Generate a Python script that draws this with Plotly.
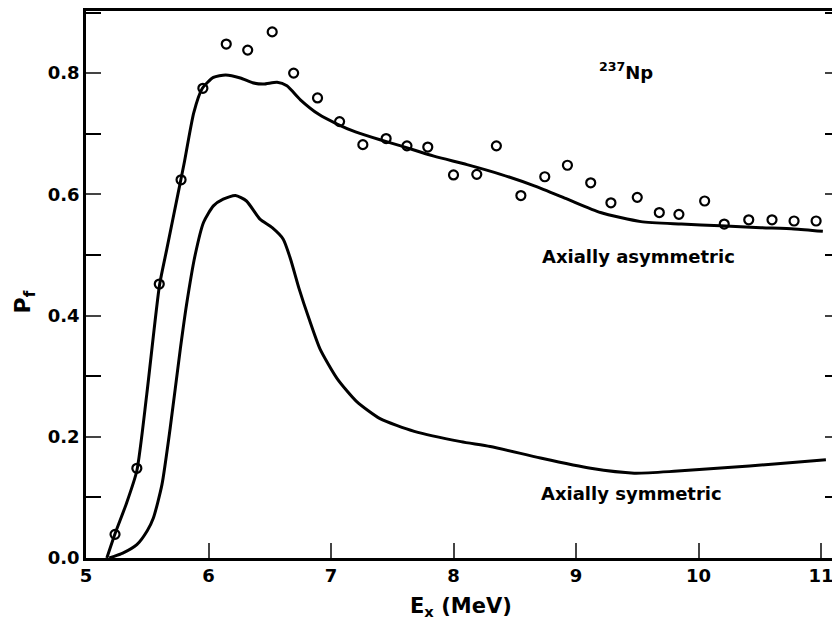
import plotly.graph_objects as go

# Experimental points (open circles)
pts_x = [5.237, 5.415, 5.598, 5.776, 5.954, 6.145, 6.32, 6.52, 6.695, 6.89, 7.07, 7.26,
         7.45, 7.62, 7.79, 8.0, 8.19, 8.35, 8.55, 8.745, 8.93, 9.12, 9.285, 9.50, 9.68,
         9.84, 10.05, 10.21, 10.41, 10.60, 10.78, 10.96]
pts_y = [0.039, 0.148, 0.452, 0.624, 0.775, 0.848, 0.838, 0.868, 0.80, 0.759, 0.72, 0.682,
         0.692, 0.68, 0.678, 0.632, 0.633, 0.68, 0.598, 0.629, 0.648, 0.619, 0.586, 0.595, 0.570,
         0.567, 0.589, 0.551, 0.558, 0.558, 0.556, 0.556]

# Axially asymmetric calculation
asym_x = [5.17, 5.237, 5.33, 5.415, 5.496, 5.60, 5.66, 5.75, 5.80, 5.88, 5.95, 6.04, 6.14,
          6.26, 6.36, 6.45, 6.56, 6.64, 6.75, 6.90, 7.05, 7.20, 7.40, 7.57, 7.84, 8.11, 8.385,
          8.66, 8.93, 9.2, 9.53, 9.86, 10.18, 10.51, 10.78, 11.015]
asym_y = [0.0, 0.04, 0.09, 0.144, 0.27, 0.45, 0.51, 0.60, 0.65, 0.735, 0.775, 0.793, 0.797,
          0.792, 0.784, 0.782, 0.785, 0.779, 0.756, 0.732, 0.716, 0.703, 0.690, 0.680, 0.663, 0.649, 0.633,
          0.614, 0.592, 0.570, 0.555, 0.551, 0.548, 0.545, 0.543, 0.539]

# Axially symmetric calculation
sym_x = [5.19, 5.30, 5.415, 5.50, 5.55, 5.62, 5.687, 5.77, 5.82, 5.89, 5.96, 6.04, 6.12,
         6.22, 6.31, 6.42, 6.52, 6.61, 6.67, 6.74, 6.82, 6.91, 7.05, 7.21, 7.40, 7.68, 8.06,
         8.30, 8.71, 9.12, 9.475, 9.80, 10.21, 10.62, 11.04]
sym_y = [0.0, 0.008, 0.022, 0.045, 0.066, 0.121, 0.214, 0.345, 0.417, 0.499, 0.554, 0.581, 0.592,
         0.598, 0.589, 0.559, 0.545, 0.526, 0.493, 0.444, 0.395, 0.345, 0.296, 0.258, 0.230, 0.209, 0.192,
         0.184, 0.165, 0.148, 0.140, 0.143, 0.149, 0.155, 0.162]

x_ticks = [5, 6, 7, 8, 9, 10, 11]
y_ticks = [0.0, 0.2, 0.4, 0.6, 0.8]
y_ticklabels = ["0.0", "0.2", "0.4", "0.6", "0.8"]

FONT = "DejaVu Sans"

fig = go.Figure()
fig.add_trace(go.Scatter(x=asym_x, y=asym_y, mode="lines",
                         line=dict(color="black", width=3, shape="spline", smoothing=0.6),
                         hoverinfo="skip", showlegend=False))
fig.add_trace(go.Scatter(x=sym_x, y=sym_y, mode="lines",
                         line=dict(color="black", width=3, shape="spline", smoothing=0.6),
                         hoverinfo="skip", showlegend=False))
fig.add_trace(go.Scatter(x=pts_x, y=pts_y, mode="markers",
                         marker=dict(symbol="circle-open", size=9, color="black",
                                     line=dict(color="black", width=2.2)),
                         showlegend=False))

fig.update_layout(
    width=840, height=635,
    margin=dict(l=78, r=8, t=0, b=85),
    plot_bgcolor="white", paper_bgcolor="white",
    font=dict(family=FONT, color="black", size=18, weight="bold"),
    xaxis=dict(range=[5, 11.155], tickvals=x_ticks, ticks="inside", ticklen=15, tickwidth=2,
               showline=True, linewidth=2.5, linecolor="black", mirror=True,
               showgrid=False, zeroline=False,
               tickfont=dict(size=18, family=FONT, weight="bold")),
    yaxis=dict(range=[0, 0.9025], tickvals=y_ticks, ticktext=y_ticklabels, ticks="inside",
               ticklen=15, tickwidth=2, showline=True, linewidth=2.5, linecolor="black",
               mirror="ticks", showgrid=False, zeroline=False,
               tickfont=dict(size=18, family=FONT, weight="bold"),
               minor=dict(dtick=0.1, tick0=0, ticks="inside", ticklen=15, tickwidth=2,
                          tickcolor="black", showgrid=False)),
    annotations=[
        dict(x=9.41, y=0.803, xref="x", yref="y", text="<sup>237</sup>Np", showarrow=False,
             font=dict(size=18, family=FONT, weight="bold")),
        dict(x=9.514, y=0.497, xref="x", yref="y", text="Axially asymmetric", showarrow=False,
             font=dict(size=18, family=FONT, weight="bold")),
        dict(x=9.457, y=0.107, xref="x", yref="y", text="Axially symmetric", showarrow=False,
             font=dict(size=18, family=FONT, weight="bold")),
        dict(x=(461 - 86) / 754, y=-0.089, xref="paper", yref="paper",
             text="E<sub>x</sub> (MeV)", showarrow=False, yanchor="middle",
             font=dict(size=21, family=FONT, weight="bold")),
        dict(x=-0.081, y=0.469, xref="paper", yref="paper", text="P<sub>f</sub>",
             showarrow=False, textangle=-90, xanchor="center", yanchor="middle",
             font=dict(size=22, family=FONT, weight="bold")),
    ],
)

fig.write_html("out.html")
